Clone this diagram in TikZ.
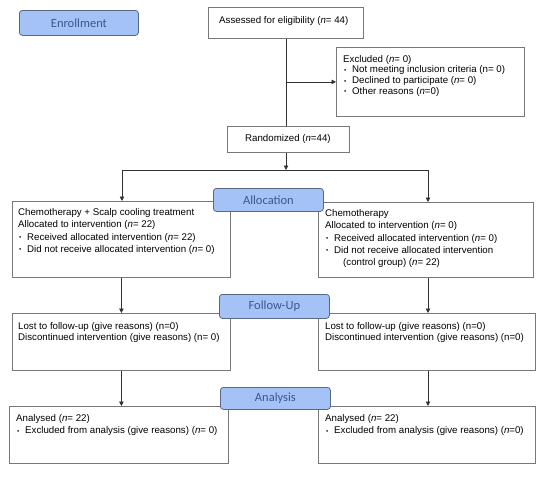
\documentclass[tikz,border=0pt]{standalone}
\usepackage{fontspec}
\setmainfont{Liberation Sans}
\newfontfamily\phasefont{Carlito}
\usetikzlibrary{arrows.meta}
\definecolor{phasefill}{RGB}{164,194,246}
\definecolor{phasedraw}{RGB}{90,104,135}
\definecolor{phasetext}{RGB}{58,88,145}
\definecolor{boxdraw}{RGB}{120,120,120}
\definecolor{linecol}{RGB}{50,50,50}
\newcommand\mybul{\makebox[9pt][l]{\hspace{1pt}\raisebox{0.6pt}{\scalebox{0.65}{•}}}}
\begin{document}
\begin{tikzpicture}[x=1pt,y=-1pt,
  box/.style={draw=boxdraw,line width=0.8pt,fill=white,inner sep=0pt,anchor=north west},
  txt/.style={inner sep=0pt,anchor=north west,align=left,font=\fontsize{9.7}{12.4}\selectfont},
  phase/.style={draw=phasedraw,fill=phasefill,rounded corners=3pt,line width=0.8pt,
    text=phasetext,font=\phasefont\fontsize{12.5}{14}\selectfont,inner sep=0pt,anchor=north west},
  conn/.style={draw=linecol,line width=0.8pt},
  arr/.style={conn,-{Triangle[width=4.5pt,length=4.5pt]}}]
\useasboundingbox (0,0) rectangle (550,479);

% boxes
\node[box,minimum width=155pt,minimum height=31pt] (assess) at (208,7) {};
\node[txt] (assessT) at (219,16) {Assessed for eligibility (\textit{n}= 44)};

\node[box,minimum width=188pt,minimum height=69pt] (excl) at (336,47) {};
\node[txt,font=\fontsize{9.7}{10.7}\selectfont] (exclT) at (343,55) {Excluded (\textit{n}= 0)\\
\mybul Not meeting inclusion criteria (n= 0)\\
\mybul Declined to participate (\textit{n}= 0)\\
\mybul Other reasons (\textit{n}=0)};

\node[box,minimum width=122pt,minimum height=26pt] (rand) at (227,126) {};
\node[txt] (randT) at (245,134) {Randomized (\textit{n}=44)};

\node[box,minimum width=218pt,minimum height=76pt] (allocL) at (12,201) {};
\node[txt] (allocLT) at (18,208) {Chemotherapy + Scalp cooling treatment\\
Allocated to intervention (\textit{n}= 22)\\
\mybul Received allocated intervention (\textit{n}= 22)\\
\mybul Did not receive allocated intervention (\textit{n}= 0)};

\node[box,minimum width=215pt,minimum height=75pt] (allocR) at (318,202) {};
\node[txt] (allocRT) at (325,209) {Chemotherapy\\
Allocated to intervention (\textit{n}= 0)\\
\mybul Received allocated intervention (\textit{n}= 0)\\
\mybul Did not receive allocated intervention\\
\hspace{18pt}(control group) (\textit{n}= 22)};

\node[box,minimum width=218pt,minimum height=57pt] (folL) at (12,313) {};
\node[txt,font=\fontsize{9.7}{10.8}\selectfont] (folLT) at (18,322) {Lost to follow-up (give reasons) (n=0)\\
Discontinued intervention (give reasons) (n= 0)};

\node[box,minimum width=217pt,minimum height=57pt] (folR) at (318,313) {};
\node[txt,font=\fontsize{9.7}{10.8}\selectfont] (folRT) at (325,322) {Lost to follow-up (give reasons) (n=0)\\
Discontinued intervention (give reasons) (n=0)};

\node[box,minimum width=219pt,minimum height=57pt] (anaL) at (9,406) {};
\node[txt] (anaLT) at (16,414) {Analysed (\textit{n}= 22)\\
\mybul Excluded from analysis (give reasons) (\textit{n}= 0)};

\node[box,minimum width=217pt,minimum height=57pt] (anaR) at (318,406) {};
\node[txt] (anaRT) at (325,414) {Analysed (\textit{n}= 22)\\
\mybul Excluded from analysis (give reasons) (\textit{n}=0)};

% connectors
\coordinate (split) at (286,170);
\coordinate (jL) at (122,170);
\coordinate (jR) at (428,170);
\draw[conn] (assess.south -| split) -- (split |- rand.north);
\draw[arr] (split |- excl.west) -- (excl.west);
\draw[arr] (split |- rand.south) -- (split);
\draw[conn] (jL) -- (jR);
\draw[arr] (jL) -- (jL |- allocL.north);
\draw[arr] (jR) -- (jR |- allocR.north);
\draw[arr] (allocL.south) -- (allocL.south |- folL.north);
\draw[arr] (allocR.south -| jR) -- (jR |- folR.north);
\draw[arr] (folL.south) -- (folL.south |- anaL.north);
\draw[arr] (folR.south -| jR) -- (jR |- anaR.north);

% phase labels
\node[phase,minimum width=119pt,minimum height=25pt] (enr) at (19,10) {Enrollment};
\node[phase,minimum width=110pt,minimum height=23pt] (alloc) at (213,188) {Allocation};
\node[phase,minimum width=110pt,minimum height=24pt] (fol) at (219,294) {Follow-Up};
\node[phase,minimum width=110pt,minimum height=22pt] (ana) at (220,387) {Analysis};
\end{tikzpicture}
\end{document}
